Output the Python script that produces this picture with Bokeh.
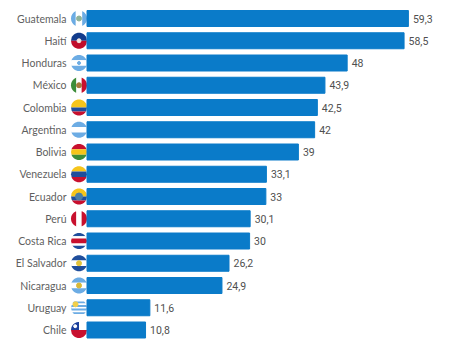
import math
from bokeh.plotting import figure
from bokeh.models import ColumnDataSource
from bokeh.core.properties import value
from bokeh.embed import file_html
from bokeh.resources import INLINE

countries = ["Guatemala", "Haití", "Honduras", "México", "Colombia", "Argentina", "Bolivia",
             "Venezuela", "Ecuador", "Perú", "Costa Rica", "El Salvador", "Nicaragua", "Uruguay", "Chile"]
values = [59.3, 58.5, 48, 43.9, 42.5, 42, 39, 33.1, 33, 30.1, 30, 26.2, 24.9, 11.6, 10.8]
value_labels = ["59,3", "58,5", "48", "43,9", "42,5", "42", "39", "33,1", "33", "30,1", "30", "26,2", "24,9", "11,6", "10,8"]

LB, WH, BL, RD, YE, GR, NV = "#6CACE4", "#FFFFFF", "#1F4E9C", "#C8102E", "#F6C51B", "#3C8D3A", "#1B3F8B"
# Flag layers in the unit circle: x0, x1, y0, y1 (y up), colour
flags = {
    "Guatemala": [(-1, -.4, -1, 1, LB), (-.4, .4, -1, 1, WH), (.4, 1, -1, 1, LB)],
    "Haití": [(-1, 1, 0, 1, "#123C8C"), (-1, 1, -1, 0, "#C00D2B")],
    "Honduras": [(-1, 1, .33, 1, LB), (-1, 1, -.33, .33, WH), (-1, 1, -1, -.33, LB)],
    "México": [(-1, -.33, -1, 1, GR), (-.33, .33, -1, 1, WH), (.33, 1, -1, 1, RD)],
    "Colombia": [(-1, 1, 0, 1, YE), (-1, 1, -.5, 0, BL), (-1, 1, -1, -.5, RD)],
    "Argentina": [(-1, 1, .33, 1, LB), (-1, 1, -.33, .33, WH), (-1, 1, -1, -.33, LB)],
    "Bolivia": [(-1, 1, .33, 1, RD), (-1, 1, -.33, .33, YE), (-1, 1, -1, -.33, GR)],
    "Venezuela": [(-1, 1, .33, 1, YE), (-1, 1, -.33, .33, BL), (-1, 1, -1, -.33, RD)],
    "Ecuador": [(-1, 1, 0, 1, YE), (-1, 1, -.5, 0, BL), (-1, 1, -1, -.5, RD)],
    "Perú": [(-1, -.33, -1, 1, RD), (-.33, .33, -1, 1, WH), (.33, 1, -1, 1, RD)],
    "Costa Rica": [(-1, 1, .6, 1, BL), (-1, 1, .3, .6, WH), (-1, 1, -.3, .3, RD), (-1, 1, -.6, -.3, WH), (-1, 1, -1, -.6, BL)],
    "El Salvador": [(-1, 1, .33, 1, BL), (-1, 1, -.33, .33, WH), (-1, 1, -1, -.33, BL)],
    "Nicaragua": [(-1, 1, .33, 1, LB), (-1, 1, -.33, .33, WH), (-1, 1, -1, -.33, LB)],
    "Uruguay": [(-1, 1, -1, 1, WH), (-1, 1, .55, .78, LB), (-1, 1, .1, .33, LB), (-1, 1, -.33, -.1, LB), (-1, 1, -.78, -.55, LB)],
    "Chile": [(-1, 1, 0, 1, WH), (-1, 1, -1, 0, "#C8102E"), (-1, 0, 0, 1, "#1B3F9C")],
}
emblems = {"Guatemala": "#8FB39A", "Haití": "#F2E6E0", "Honduras": LB, "México": "#A6793A", "Ecuador": "#4A7FA8",
           "El Salvador": "#E2C33A", "Nicaragua": "#D8B93A", "Uruguay": "#F2CF4A", "Chile": "#FFFFFF"}

W, H = 460, 345
PX_PER_UNIT = 5.42
PITCH = 22.25
LEFT = 86.5
TOP = 18.0

p = figure(width=W, height=H, output_backend="svg", toolbar_location=None,
           x_range=(-LEFT / PX_PER_UNIT, (W - LEFT) / PX_PER_UNIT),
           y_range=((H - TOP) / PITCH, -TOP / PITCH),
           x_axis_type="linear", min_border=0, outline_line_color=None,
           background_fill_color="white", border_fill_color="white")
p.axis.visible = False
p.xgrid.visible = False
p.ygrid.visible = False

rows = list(range(len(countries)))
FLAG_CX = -8.0 / PX_PER_UNIT
RADIUS = 8.0

def clip_patch(row, x0, x1, y0, y1):
    """Rectangle of the unit square intersected with the unit circle, in data units."""
    n = 24
    xs = [x0 + (x1 - x0) * i / n for i in range(n + 1)]
    up, lo = [], []
    for x in xs:
        s = math.sqrt(max(0.0, 1 - x * x))
        up.append(max(min(y1, s), -s))
        lo.append(min(max(y0, -s), s))
    px = xs + xs[::-1]
    py = up + lo[::-1]
    keep = [(a, b) for a, b in zip(px, py)]
    return ([FLAG_CX + a * RADIUS / PX_PER_UNIT for a, b in keep],
            [row - b * RADIUS / PITCH for a, b in keep])

fx, fy, fc = [], [], []
for r, c in zip(rows, countries):
    for x0, x1, y0, y1, col in flags[c]:
        a, b = clip_patch(r, x0, x1, y0, y1)
        fx.append(a); fy.append(b); fc.append(col)
p.patches("x", "y", source=ColumnDataSource(dict(x=fx, y=fy, c=fc)), fill_color="c", line_color=None)

ex, ey, ec, es = [], [], [], []
for r, c in zip(rows, countries):
    if c in emblems:
        off_x, off_y, size = 0, 0, 5
        if c == "Uruguay":
            off_x, off_y, size = -3.5, -3.5, 5
        if c == "Chile":
            off_x, off_y, size = -3.8, -3.8, 3
        if c == "Ecuador":
            size = 7
        if c == "Honduras":
            size = 3
        if c == "Haití":
            size = 4
        ex.append(FLAG_CX + off_x / PX_PER_UNIT)
        ey.append(r + off_y / PITCH)
        ec.append(emblems[c]); es.append(size)
p.scatter("x", "y", size="s", color="c", source=ColumnDataSource(dict(x=ex, y=ey, c=ec, s=es)))

src = ColumnDataSource(dict(y=rows, v=values, c=countries, t=value_labels))
p.hbar(y="y", left=0, right="v", height=16 / PITCH, color="#0A7BC9", source=src)

p.text(x=-20.5 / PX_PER_UNIT, y="y", text="c", source=src, text_align="right", text_baseline="middle",
       text_font=value("Lato"), text_font_size="10.5px", text_color="#5F5F5F")
p.text(x="v", y="y", text="t", source=src, x_offset=4.5, text_align="left", text_baseline="middle",
       text_font=value("Roboto"), text_font_size="10.5px", text_color="#4F4F4F")

open("out.html", "w").write(file_html(p, INLINE))
